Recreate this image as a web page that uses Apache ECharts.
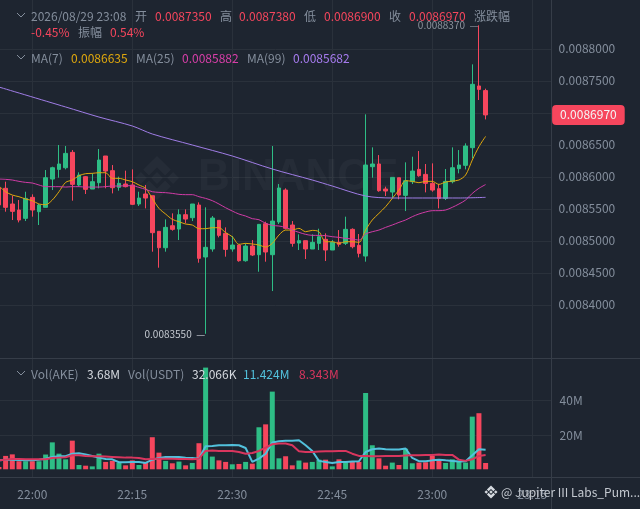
<!DOCTYPE html>
<html><head><meta charset="utf-8">
<style>html,body{margin:0;padding:0;background:#1e2530}#c{width:640px;height:509px}</style>
<script src="https://cdn.jsdelivr.net/npm/echarts@6/dist/echarts.min.js"></script>
</head><body><div id="c"></div>
<script>
const firstMinute = -5; // minutes from 22:00
const opens = [0.0085828,0.0085823,0.0085578,0.0085484,0.0085354,0.0085682,0.0085458,0.0085526,0.0085968,0.0086119,0.0086145,0.0086385,0.0085875,0.0086005,0.0085812,0.0085911,0.0086328,0.0086099,0.0085838,0.0085890,0.0085875,0.0085578,0.0085734,0.0085708,0.0085151,0.0084895,0.0085239,0.0085187,0.0085411,0.0085364,0.0085562,0.0084750,0.0084875,0.0085323,0.0085119,0.0084875,0.0084937,0.0084692,0.0084921,0.0084786,0.0085270,0.0084786,0.0085297,0.0085796,0.0085250,0.0084968,0.0085005,0.0084875,0.0084963,0.0085026,0.0084859,0.0084979,0.0084963,0.0085182,0.0084932,0.0084765,0.0086161,0.0086203,0.0085812,0.0085765,0.0085989,0.0085713,0.0085927,0.0086119,0.0086041,0.0085901,0.0085817,0.0085666,0.0085927,0.0086130,0.0086182,0.0086458,0.0087422,0.0087350];
const closes = [0.0085563,0.0085526,0.0085463,0.0085328,0.0085666,0.0085484,0.0085562,0.0085989,0.0086145,0.0086203,0.0086369,0.0085885,0.0086031,0.0085807,0.0085927,0.0086265,0.0086093,0.0085833,0.0085901,0.0085849,0.0085573,0.0085671,0.0085671,0.0085130,0.0084895,0.0085213,0.0085182,0.0085411,0.0085343,0.0085578,0.0084729,0.0084901,0.0085359,0.0085088,0.0084869,0.0084937,0.0084692,0.0084921,0.0084781,0.0085260,0.0084828,0.0085312,0.0085828,0.0085198,0.0084963,0.0085005,0.0084875,0.0084979,0.0085067,0.0084859,0.0084979,0.0084948,0.0085182,0.0084911,0.0084807,0.0086187,0.0086203,0.0085786,0.0085781,0.0085994,0.0085718,0.0085942,0.0086093,0.0086020,0.0085901,0.0085796,0.0085666,0.0085932,0.0086145,0.0086187,0.0086484,0.0087448,0.0087369,0.0086970];
const lows = [0.0085500,0.0085458,0.0085328,0.0085291,0.0085312,0.0085380,0.0085250,0.0085526,0.0085796,0.0085989,0.0086119,0.0085630,0.0085849,0.0085734,0.0085812,0.0085823,0.0085823,0.0085744,0.0085786,0.0085838,0.0085562,0.0085547,0.0085510,0.0084833,0.0084583,0.0084833,0.0085161,0.0085015,0.0085276,0.0085312,0.0084661,0.0083550,0.0084833,0.0085057,0.0084755,0.0084833,0.0084677,0.0084677,0.0084765,0.0084520,0.0084677,0.0084218,0.0085265,0.0085182,0.0084911,0.0084859,0.0084718,0.0084875,0.0084859,0.0084687,0.0084859,0.0084911,0.0084937,0.0084885,0.0084744,0.0084677,0.0085989,0.0085770,0.0085703,0.0085666,0.0085651,0.0085468,0.0085890,0.0086005,0.0085760,0.0085770,0.0085510,0.0085640,0.0085901,0.0086057,0.0086119,0.0086291,0.0087203,0.0086900];
const highs = [0.0085900,0.0085927,0.0085708,0.0085640,0.0085770,0.0085729,0.0085578,0.0086109,0.0086161,0.0086500,0.0086484,0.0086421,0.0086073,0.0086015,0.0086057,0.0086437,0.0086328,0.0086187,0.0086005,0.0086099,0.0086119,0.0085770,0.0085875,0.0085708,0.0085151,0.0085338,0.0085432,0.0085494,0.0085494,0.0085578,0.0085604,0.0085526,0.0085390,0.0085323,0.0085213,0.0085078,0.0084937,0.0084963,0.0085015,0.0085260,0.0085302,0.0086484,0.0085890,0.0085823,0.0085312,0.0085104,0.0085005,0.0085104,0.0085192,0.0085119,0.0085015,0.0085171,0.0085380,0.0085198,0.0085109,0.0086979,0.0086463,0.0086343,0.0085849,0.0085994,0.0085989,0.0086229,0.0086317,0.0086406,0.0086203,0.0086213,0.0085890,0.0086125,0.0086463,0.0086421,0.0086526,0.0087760,0.0088370,0.0087380];
const ma7 = [0.0085859,0.0085770,0.0085718,0.0085692,0.0085656,0.0085630,0.0085578,0.0085567,0.0085640,0.0085770,0.0085916,0.0085953,0.0086020,0.0086052,0.0086057,0.0086067,0.0086067,0.0085979,0.0085979,0.0085953,0.0085927,0.0085875,0.0085823,0.0085666,0.0085510,0.0085421,0.0085338,0.0085302,0.0085265,0.0085250,0.0085192,0.0085192,0.0085208,0.0085208,0.0085130,0.0085067,0.0084948,0.0084963,0.0084953,0.0084937,0.0084906,0.0084963,0.0085093,0.0085171,0.0085171,0.0085198,0.0085145,0.0085166,0.0085145,0.0084989,0.0084989,0.0084963,0.0084989,0.0084989,0.0084979,0.0085171,0.0085328,0.0085432,0.0085536,0.0085666,0.0085796,0.0085942,0.0085932,0.0085911,0.0085932,0.0085932,0.0085885,0.0085921,0.0085937,0.0085953,0.0086031,0.0086265,0.0086474,0.0086635];
const ma25 = [0.0085968,0.0085963,0.0085953,0.0085932,0.0085916,0.0085906,0.0085875,0.0085849,0.0085849,0.0085849,0.0085843,0.0085849,0.0085849,0.0085843,0.0085843,0.0085843,0.0085849,0.0085859,0.0085859,0.0085864,0.0085864,0.0085838,0.0085807,0.0085770,0.0085760,0.0085755,0.0085744,0.0085729,0.0085724,0.0085724,0.0085692,0.0085666,0.0085630,0.0085578,0.0085520,0.0085468,0.0085421,0.0085390,0.0085349,0.0085333,0.0085276,0.0085244,0.0085234,0.0085213,0.0085171,0.0085135,0.0085104,0.0085088,0.0085088,0.0085083,0.0085067,0.0085057,0.0085041,0.0085031,0.0085015,0.0085109,0.0085145,0.0085171,0.0085213,0.0085250,0.0085291,0.0085328,0.0085380,0.0085422,0.0085453,0.0085474,0.0085474,0.0085484,0.0085526,0.0085578,0.0085640,0.0085744,0.0085823,0.0085882];
const ma99Minutes = [-5,5,10,15,18,24,30,36,42,45,50,54,60,64,68];
const ma99 = [0.0087406,0.0087094,0.0086937,0.0086797,0.0086672,0.0086500,0.0086328,0.0086125,0.0085953,0.0085859,0.0085703,0.0085672,0.0085672,0.0085672,0.0085682];
const volumes = [1.4,7.8,8.7,4.7,4.7,4.7,4.7,8.6,15.7,9.1,5.8,16.7,2.5,2.1,1.7,9.1,4.3,4.9,3.7,2.3,5.2,2.5,4.3,18.7,9.7,4.9,3.5,4.5,2.3,3.7,15.2,59.3,7.4,5.2,4.3,2.9,3.1,4.3,3.3,24.5,26.2,45.3,6.4,7.6,2.3,5.1,3.9,4.3,5.6,5.6,1.7,5.8,4.1,4.3,4.3,44.5,14,6.4,2.1,3.9,2.5,12,3.5,3.9,4.1,7.8,5.8,3.7,5.8,4.3,3.9,30.7,32.7,3.68];
const volMaA = [5.2,5.6,5.6,5.4,5.2,5.2,5.6,6.2,7.2,7.6,7.6,9.1,9.3,8.7,7.8,6.8,6.0,5.8,4.1,4.1,4.3,4.3,3.7,5.6,6.6,7.2,7.2,7.2,6.8,6.6,6.2,13.4,13.6,14.0,14.0,14.2,14.0,12.4,4.3,6.2,9.1,15.6,16.3,16.7,16.7,16.9,14.0,10.7,4.9,4.3,3.7,4.3,4.3,4.5,4.7,10.1,11.7,12.1,11.7,11.5,11.5,12.1,6.6,4.7,4.7,5.2,5.6,5.2,4.9,4.5,4.7,8.2,11.7,11.424];
const volMaB = [5.2,5.6,6.0,6.0,5.8,5.8,5.8,5.8,6.6,6.8,7.0,8.2,8.2,7.8,7.6,7.6,7.4,7.2,7.0,6.8,6.8,6.6,5.8,6.0,6.2,6.2,6.2,6.0,6.0,5.8,6.2,10.7,10.9,10.7,10.7,10.7,10.1,9.1,9.5,10.7,12.6,14.6,15.0,15.0,14.0,10.5,10.1,10.1,10.3,10.5,10.5,10.7,10.7,9.1,7.8,7.8,7.6,7.6,7.8,7.8,7.8,8.0,8.2,8.2,8.4,8.4,8.6,8.4,8.4,5.6,4.9,5.8,7.8,8.343];
const priceTicks = [0.0084,0.00845,0.0085,0.00855,0.0086,0.00865,0.0087,0.00875,0.0088];
const priceLabels = [0.0084,0.00845,0.0085,0.00855,0.0086,0.00865,0.00875,0.0088];
const volTicks = [20,40];
const timeTicks = [0,15,30,45,60,75];
const timeLabels = ['22:00','22:15','22:30','22:45','23:00','23:15'];
const lastPrice = 0.008697;
const maxPrice = 0.008837, maxMinute = 67;
const minPrice = 0.008355, minMinute = 26;
const xAxisMin = -4.845, xAxisMax = 77.9;

const UP='#2ebd85', DOWN='#f6465d', GREY='#848e9c', GRID='#2a313b', EDGE='#363d48';
const FONT='"Noto Sans CJK SC","Noto Sans",sans-serif';
const minuteOf = i => firstMinute + i;
const candles = opens.map((o,i)=>[minuteOf(i),o,closes[i],lows[i],highs[i]]);
const line = (arr)=>arr.map((v,i)=>[minuteOf(i),v]);
const volBars = volumes.map((v,i)=>({value:[minuteOf(i),v],itemStyle:{color:closes[i]>=opens[i]?UP:DOWN}}));

function txt(x,y,s,color){return {type:'text',x,y,z:50,silent:true,style:{text:s,fill:color||GREY,font:'12px '+FONT,textVerticalAlign:'middle'}};}
function chev(x,y){return {type:'polyline',z:50,silent:true,shape:{points:[[x-4,y-3],[x,y+1],[x+4,y-3]]},style:{stroke:GREY,fill:null,lineWidth:1}};}
function hline(y){return {type:'line',z:1,silent:true,shape:{x1:0,y1:y,x2:640,y2:y},style:{stroke:EDGE,lineWidth:1}};}
function logo(cx,cy,r,fill,z){
  const poly=pts=>({type:'polygon',z,silent:true,shape:{points:pts.map(p=>[cx+p[0]*r,cy+p[1]*r])},style:{fill}});
  const d=(a,b,h)=>[[a,b-h],[a+h,b],[a,b+h],[a-h,b]];
  return [poly(d(0,0,.27)),poly(d(-.73,0,.27)),poly(d(.73,0,.27)),
    poly([[0,-1],[.63,-.37],[.37,-.11],[0,-.48],[-.37,-.11],[-.63,-.37]]),
    poly([[0,1],[.63,.37],[.37,.11],[0,.48],[-.37,.11],[-.63,.37]])];
}
const graphics=[
  hline(358.5),hline(477.5),
  {type:'line',z:1,silent:true,shape:{x1:551.5,y1:0,x2:551.5,y2:509},style:{stroke:EDGE,lineWidth:1}},
  ...logo(157,178,22,'rgba(255,255,255,0.035)',1),
  {type:'text',x:198,y:178,z:1,silent:true,style:{text:'BINANCE',fill:'rgba(255,255,255,0.035)',font:'bold 44px "Liberation Sans",sans-serif',textVerticalAlign:'middle'}},
  chev(21,16),txt(31,16,'2026/08/29 23:08'),
  txt(135,16,'开'),txt(155,16,'0.0087350',DOWN),
  txt(220,16,'高'),txt(239,16,'0.0087380',DOWN),
  txt(304,16,'低'),txt(324,16,'0.0086900',DOWN),
  txt(389,16,'收'),txt(409,16,'0.0086970',DOWN),
  txt(474,16,'涨跌幅'),
  txt(31,32,'-0.45%',DOWN),txt(78,32,'振幅'),txt(110,32,'0.54%',DOWN),
  chev(21,58),txt(31,58,'MA(7)'),txt(71,58,'0.0086635','#e0a80d'),
  txt(136,58,'MA(25)'),txt(182,58,'0.0085882','#d93fa9'),
  txt(247,58,'MA(99)'),txt(293,58,'0.0085682','#a77cf0'),
  chev(21,374),txt(31,374,'Vol(AKE)'),txt(87,374,'3.68M','#d5d9df'),
  txt(128,374,'Vol(USDT)'),txt(192,374,'32.066K','#d5d9df'),
  txt(243,374,'11.424M','#52c1dc'),txt(299,374,'8.343M','#d9365e'),
  ...logo(491,492,6.5,'#d5d9df',60),
  {type:'text',x:501,y:492,z:60,silent:true,style:{text:'@ Jupiter III Labs_Pum...',fill:'#c4c9d0',font:'12px '+FONT,textVerticalAlign:'middle'}}
];
const xBase={type:'value',min:xAxisMin,max:xAxisMax,splitNumber:5,
  axisLine:{show:false},axisTick:{show:false,customValues:timeTicks},
  splitLine:{show:true,lineStyle:{color:GRID,width:1}}};
const chart=echarts.init(document.getElementById('c'),null,{renderer:'canvas',width:640,height:509});
chart.setOption({
  animation:false,backgroundColor:'#1e2530',
  grid:[{left:0,top:0,width:551.6,height:358},{left:0,top:358,width:551.6,height:119}],
  graphic:graphics,
  xAxis:[
    {...xBase,gridIndex:0,axisLabel:{show:false,customValues:timeTicks}},
    {...xBase,gridIndex:1,axisLabel:{show:true,customValues:timeTicks,color:GREY,fontFamily:FONT,fontSize:12,margin:11,
      formatter:v=>timeLabels[timeTicks.indexOf(Math.round(v))]||''}}
  ],
  yAxis:[
    {type:'value',gridIndex:0,position:'right',min:0.00831719,max:0.00887656,
     axisLine:{show:false},axisTick:{show:false,customValues:priceTicks},
     splitLine:{show:true,lineStyle:{color:GRID,width:1}},
     axisLabel:{customValues:priceLabels,color:GREY,fontFamily:FONT,fontSize:12,margin:7,formatter:v=>'{a|'+v.toFixed(7)+'}',
       rich:{a:{color:GREY,fontFamily:FONT,fontSize:12,padding:[0,0,2,0]}}}},
    {type:'value',gridIndex:1,position:'right',min:-4.5,max:64.9,
     axisLine:{show:false},axisTick:{show:false,customValues:volTicks},
     splitLine:{show:true,lineStyle:{color:GRID,width:1}},
     axisLabel:{customValues:volTicks,color:GREY,fontFamily:FONT,fontSize:12,margin:8,formatter:v=>v+'M'}}
  ],
  series:[
    {type:'candlestick',xAxisIndex:0,yAxisIndex:0,barWidth:4,data:candles,encode:{x:0,y:[1,2,3,4]},z:3,
     itemStyle:{color:UP,color0:DOWN,borderColor:UP,borderColor0:DOWN,borderWidth:1},
     markPoint:{silent:true,symbol:'circle',symbolSize:1,itemStyle:{color:'rgba(0,0,0,0)'},
       label:{show:true,position:'left',distance:0,color:'#aab0b9',fontFamily:FONT,fontSize:10},
       data:[{coord:[maxMinute,maxPrice],label:{formatter:maxPrice.toFixed(7)+'  —',color:'#8d949e'}},
             {coord:[minMinute,minPrice],label:{formatter:minPrice.toFixed(7)+'  —',color:'#c4c9d0'}},
             {coord:[xAxisMax,lastPrice],label:{position:'right',distance:0,formatter:lastPrice.toFixed(7),color:'#f4f5f6',backgroundColor:DOWN,padding:[4,8],borderRadius:4,fontSize:12}}]}},
    {type:'line',xAxisIndex:0,yAxisIndex:0,data:line(ma7),showSymbol:false,smooth:0.3,z:4,lineStyle:{color:'#e0a80d',width:1}},
    {type:'line',xAxisIndex:0,yAxisIndex:0,data:line(ma25),showSymbol:false,smooth:0.3,z:4,lineStyle:{color:'#d03ca6',width:1}},
    {type:'line',xAxisIndex:0,yAxisIndex:0,data:ma99.map((v,i)=>[ma99Minutes[i],v]),showSymbol:false,smooth:0.3,z:4,lineStyle:{color:'#a07de6',width:1}},
    {type:'bar',xAxisIndex:1,yAxisIndex:1,barWidth:5,data:volBars,z:3},
    {type:'line',xAxisIndex:1,yAxisIndex:1,data:line(volMaA),showSymbol:false,z:4,lineStyle:{color:'#52c1dc',width:2}},
    {type:'line',xAxisIndex:1,yAxisIndex:1,data:line(volMaB),showSymbol:false,z:4,lineStyle:{color:'#d9365e',width:2}}
  ]
});
</script></body></html>
